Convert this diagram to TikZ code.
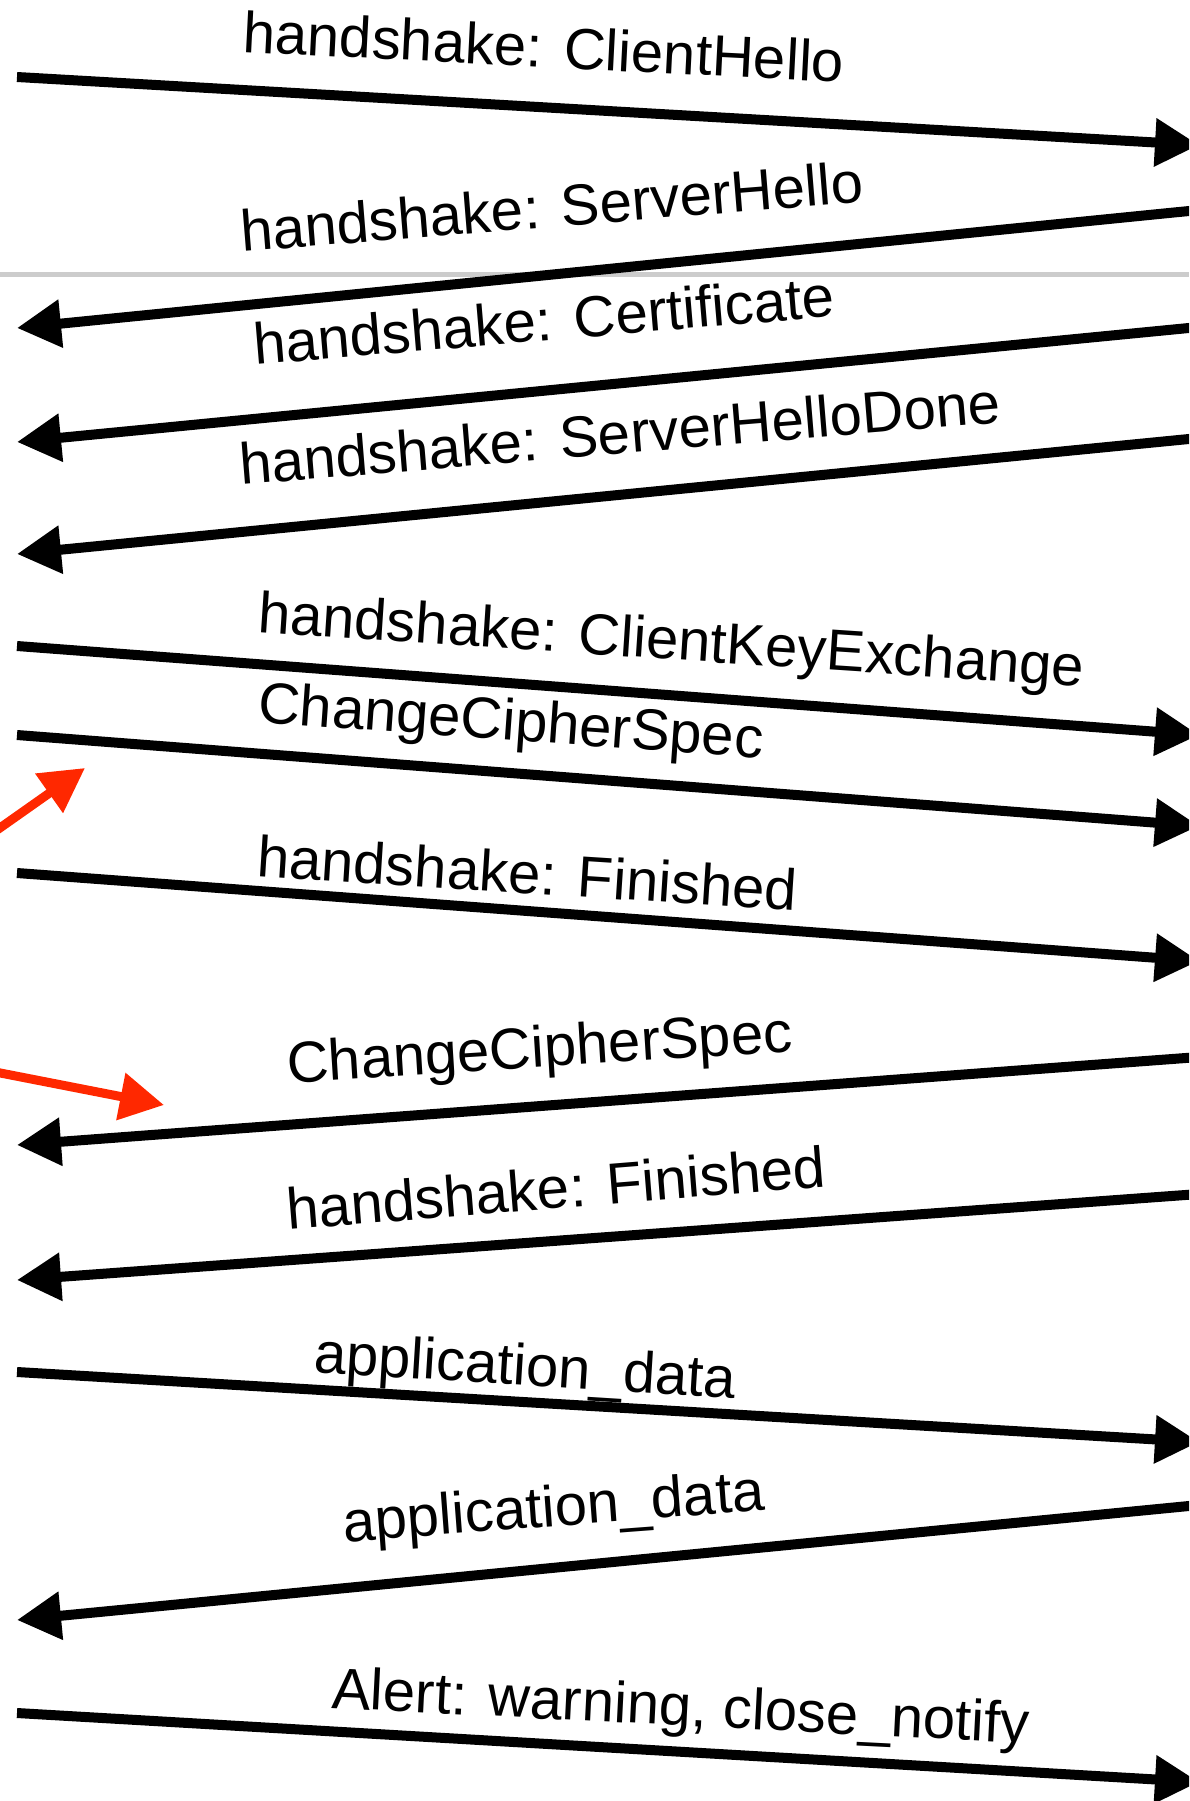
\documentclass[tikz,border=0pt]{standalone}
\usepackage{fontspec}
\setmainfont{Liberation Sans}
\usetikzlibrary{arrows.meta}
\definecolor{hintred}{RGB}{255,40,0}

\begin{document}
\begin{tikzpicture}[x=1pt, y=-1pt, font=\fontsize{58}{70}\selectfont,
  msg/.style={line width=10pt, -{Triangle[length=44pt,width=46pt]}},
  hint/.style={msg, line width=9pt, draw=hintred, fill=hintred},
  lbl/.style={anchor=base west, inner sep=0pt},
  sep/.style={line width=5pt, draw=black!20}]
\path[use as bounding box, clip] (0,0) rectangle (1189,1801);
% record boundary
\coordinate (g0) at (0,274);
\coordinate (g1) at (1189,274);
\draw[sep] (g0) -- (g1);
% client -> server
\foreach \i/\yc/\ys in {1/77/145, 5/646/735, 6/735/826, 7/873/961, 10/1372/1442, 12/1713/1782}{
  \coordinate (c\i) at (17,\yc);
  \coordinate (s\i) at (1199,\ys);
  \draw[msg] (c\i) -- (s\i);
}
% server -> client
\foreach \i/\yc/\ys in {2/328/210, 3/442/327, 4/554/438, 8/1145/1057, 9/1280/1194, 11/1620/1505}{
  \coordinate (c\i) at (17,\yc);
  \coordinate (s\i) at (1199,\ys);
  \draw[msg] (s\i) -- (c\i);
}
% record labels
\foreach \i/\x/\y/\a/\t in {
  1/242/52/-2.9/{handshake: ClientHello},
  2/242/252/4.6/{handshake: ServerHello},
  3/255/365/4.8/{handshake: Certificate},
  4/241/485/4.7/{handshake: ServerHelloDone},
  5/257/632/-3.8/{handshake: ClientKeyExchange},
  6/257/722/-4.1/{ChangeCipherSpec},
  7/256/876/-3.7/{handshake: Finished},
  8/288/1083/3.6/{ChangeCipherSpec},
  9/288/1230/4.6/{handshake: Finished},
  10/313/1372/-3.6/{application\_data},
  11/344/1542/4.3/{application\_data},
  12/331/1708/-2.9/{Alert: warning, close\_notify}}
  \node[lbl, rotate=\a] (l\i) at (\x,\y) {\t};
% red hints
\coordinate (r1s) at (-20,842);
\coordinate (r1e) at (85,768);
\coordinate (r2s) at (-20,1069);
\coordinate (r2e) at (164,1105);
\draw[hint] (r1s) -- (r1e);
\draw[hint] (r2s) -- (r2e);
\end{tikzpicture}
\end{document}
